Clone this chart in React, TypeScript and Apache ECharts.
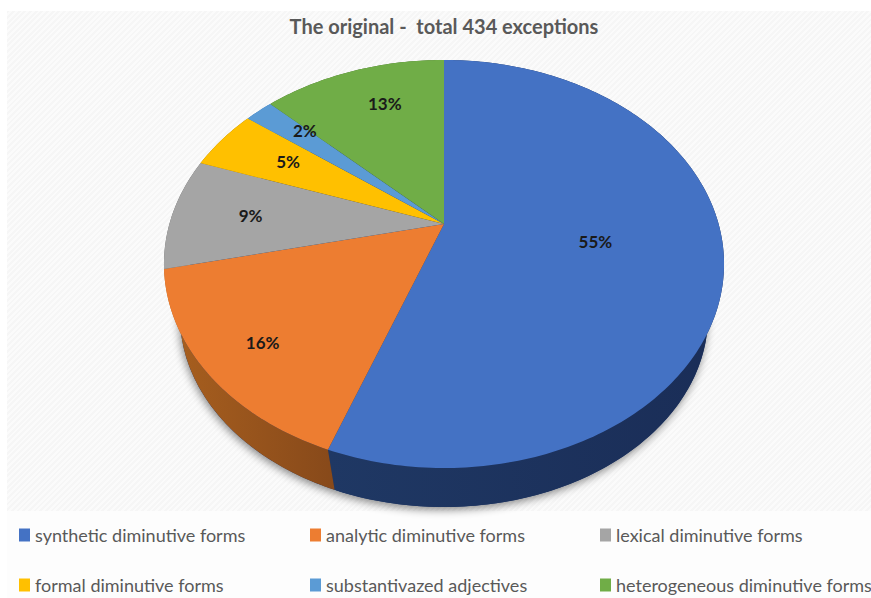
import React, { useEffect, useRef } from "react";
import * as echarts from "echarts";

const categories = [
  "synthetic diminutive forms",
  "analytic diminutive forms",
  "lexical diminutive forms",
  "formal diminutive forms",
  "substantivazed adjectives",
  "heterogeneous diminutive forms",
];
const shares = [55, 16, 9, 5, 2, 13];
const faceColors = ["#4472c4", "#ed7d31", "#a5a5a5", "#ffc000", "#5b9bd5", "#70ad47"];
const wallColors = [
  ["#1f3864", "#1a2d57"],
  ["#a9601f", "#87491a"],
  ["#636363", "#636363"],
  ["#997300", "#997300"],
  ["#2e75b6", "#2e75b6"],
  ["#43682b", "#43682b"],
];
const labelReach = [0.55, 0.8, 0.7, 0.68, 0.74, 0.72];
const labelNudge = [
  [0, -3],
  [3, 3],
  [-3, -1],
  [-1, -3],
  [2, -7],
  [9, -5],
];
const legendColumns = [19, 310, 600];
const legendRows = [526, 576];

// Tilted disc: the hub sits above the centre of the projected ellipse.
const HUB_X = 444;
const HUB_Y = 224;
const TILT = -0.196;
const SPREAD_X = 274.6;
const SPREAD_Y = 196.2;
const RIM_CY = 264;
const BASE_CY = 316;
const BASE_SX = 264 / 280;
const BASE_SY = 191 / 204;

const project = (deg: number, reach = 1): [number, number] => {
  const a = ((deg + 2.2 * Math.sin((deg * Math.PI) / 360)) * Math.PI) / 180;
  const X = Math.sin(a) * reach;
  const Y = -Math.cos(a) * reach;
  const w = 1 + TILT * Y;
  return [HUB_X + (SPREAD_X * X) / w, HUB_Y + (SPREAD_Y * Y) / w];
};

const lowered = ([x, y]: [number, number]): [number, number] => [
  HUB_X + (x - HUB_X) * BASE_SX,
  BASE_CY + (y - RIM_CY) * BASE_SY,
];

const arcPoints = (from: number, to: number) => {
  const pts: [number, number][] = [];
  const steps = Math.max(2, Math.ceil(to - from));
  for (let i = 0; i <= steps; i++) pts.push(project(from + ((to - from) * i) / steps));
  return pts;
};

const total = shares.reduce((s, v) => s + v, 0);

const renderSlice = (index: number) => (_params: unknown, api: any) => {
  const value = api.value(0);
  const before = shares.slice(0, index).reduce((s, v) => s + v, 0);
  const from = (before / total) * 360;
  const to = ((before + value) / total) * 360;
  const rim = arcPoints(from, to);
  const base = rim.map(lowered).reverse();
  const xs = [...rim, ...base].map((p) => p[0]);
  const [labelX, labelY] = project((from + to) / 2, labelReach[index]);
  return {
    type: "group",
    children: [
      {
        type: "polygon",
        z2: 1,
        shape: { points: [...rim, ...base] },
        style: {
          fill: new echarts.graphic.LinearGradient(
            Math.min(...xs), 0, Math.max(...xs), 0,
            [
              { offset: 0, color: wallColors[index][0] },
              { offset: 1, color: wallColors[index][1] },
            ],
            true,
          ),
        },
      },
      {
        type: "polygon",
        z2: 5,
        shape: { points: [[HUB_X, HUB_Y], ...rim] },
        style: { fill: faceColors[index] },
      },
      {
        type: "text",
        z2: 10,
        x: labelX + labelNudge[index][0],
        y: labelY + labelNudge[index][1],
        style: {
          text: `${value}%`,
          fill: "#1a1a1a",
          font: "bold 17px Lato",
          align: "center",
          verticalAlign: "middle",
        },
      },
    ],
  };
};

export default function App() {
  const host = useRef<HTMLDivElement>(null);

  useEffect(() => {
    const chart = echarts.init(host.current!, undefined, { renderer: "svg" });
    chart.setOption({
      animation: false,
      backgroundColor: "transparent",
      title: {
        text: "The original -  total 434 exceptions",
        left: 439,
        top: 11,
        textAlign: "center",
        textStyle: { fontFamily: "Lato", fontWeight: "bold", fontSize: 20, color: "#595959" },
      },
      legend: categories.map((name, i) => ({
        show: true,
        data: [name],
        left: legendColumns[i % 3],
        top: legendRows[Math.floor(i / 3)],
        padding: 0,
        itemWidth: 11,
        itemHeight: 13,
        icon: "rect",
        selectedMode: false,
        textStyle: { fontFamily: "Lato", fontSize: 18, color: "#595959" },
      })),
      graphic: [
        {
          type: "ellipse",
          z: 0,
          shape: { cx: HUB_X, cy: BASE_CY, rx: 264, ry: 191 },
          style: {
            fill: "#1a2d57",
            shadowBlur: 9,
            shadowOffsetY: 3,
            shadowOffsetX: -1,
            shadowColor: "rgba(0,0,0,0.45)",
          },
        },
      ],
      series: categories.map((name, i) => ({
        type: "custom",
        name,
        coordinateSystem: "none",
        itemStyle: { color: faceColors[i] },
        data: [[shares[i]]],
        encode: { value: 0 },
        renderItem: renderSlice(i),
        silent: true,
      })),
    });
    return () => chart.dispose();
  }, []);

  return (
    <div style={{ position: "fixed", left: 0, top: 0, width: 871, height: 598, background: "#fff", overflow: "hidden" }}>
      <div
        style={{
          position: "absolute", left: 7, top: 11, width: 864, height: 500,
          background: "repeating-linear-gradient(135deg, #f6f6f6 0 2px, #fbfbfb 2px 4px)",
        }}
      />
      <div style={{ position: "absolute", left: 7, top: 511, width: 864, height: 87, background: "#fdfdfd" }} />
      <div ref={host} style={{ position: "absolute", left: 0, top: 0, width: 871, height: 598 }} />
    </div>
  );
}
